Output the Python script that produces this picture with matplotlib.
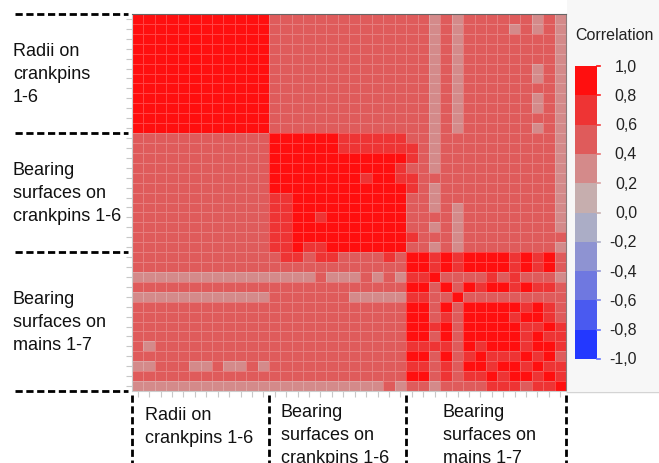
import numpy as np
import matplotlib
matplotlib.use("Agg")
import matplotlib.pyplot as plt
import matplotlib.transforms as mtransforms
from matplotlib.colors import ListedColormap, BoundaryNorm
from matplotlib.lines import Line2D
from matplotlib.patches import Rectangle

plt.rcParams["font.family"] = ["Liberation Sans", "DejaVu Sans"]

# correlation level per cell: B=0.8..1.0, T=0.6..0.8, M=0.4..0.6, L=0.2..0.4
LEVEL = {"B": 0.9, "T": 0.7, "M": 0.5, "L": 0.3}

# columns: radii (12) | crankpin bearings (12) | main bearings (14)
radii_rows = [
    "BBBBBBBBBBBB|MMMMMMMMMMMM|MMLMLMMMMMMLML",
    "BBBBBBBBBBBB|MMMMMMMMMMMM|MMLMLMMMMLMLML",
    "BBBBBBBBBBBB|MMMMMMMMMMMM|MMLMLMMMMMMMML",
    "BBBBBBBBBBBB|MMMMMMMMMMMM|MMLMLMMMMMMMML",
    "BBBBBBBBBBBB|MMMMMMMMMMMM|MMLMLMMMMMMMML",
    "BBBBBBBBBBBB|MMMMMMMMMMMM|MMLMLMMMMMMLML",
    "BBBBBBBBBBBB|MMMMMMMMMMMM|MMLMLMMMMMMLML",
    "BBBBBBBBBBBB|MMMMMMMMMMMM|MMLMLMMMMMMMML",
    "BBBBBBBBBBBB|MMMMMMMMMMMM|MMLMLMMMMMMLML",
    "BBBBBBBBBBBB|MMMMMMMMMMMM|MMLMLMMMMMMLML",
    "BBBBBBBBBBBB|MMMMMMMMMMMM|MMLMLMMMMMMMML",
    "BBBBBBBBBBBB|MMMMMMMMMMMM|MMLMLMMMMMMLML",
]
crank_rows = [
    "MMMMMMMMMMMM|BBBBBBTTTTTT|MMLMMMMMMMMMML",
    "MMMMMMMMMMMM|BBBBBBTTTTTT|TMLMMMMMMMMMML",
    "MMMMMMMMMMMM|BBBBBBBBBBBB|TMLMMMMMMMMMML",
    "MMMMMMMMMMMM|BBBBBBBBBBBT|MMLMMMMMMMMMML",
    "MMMMMMMMMMMM|BBBBBBBBTBBT|TMMMMMMMMMMMML",
    "MMMMMMMMMMMM|BBBBBBBBBBBB|TMLMMMMMMMMMML",
    "MMMMMMMMMMMM|TTBBBBBBBBBB|MMLMMMMMMMMMML",
    "MMMMMMMMMMMM|TTBBBBBBBBBB|MMLMLMMMMMMMML",
    "MMMMMMMMMMMM|TTBBTBBBBBBB|MMMMLMMMMMMMML",
    "MMMMMMMMMMMM|TTBBBBBBBBBB|MMLMLMMMMMMMML",
    "MMMMMMMMMMMM|TTBBBBBBBBBB|TMMMLMMMMMMMMM",
    "MMMMMMMMMMMM|TTBTTBBBBBBB|MMLMLMMMMMMMML",
]
main_rows = [
    "MMMMMMMMMMMM|MTTMTTMMMMTM|BBTBTBBBBTBTBM",
    "MMMMMMMMMMMM|MMMMMMMMMMMM|BBTBTBBBBTBTBM",
    "LLLLLLLLLLLL|LLLLMLLLMLML|TTBMMMMTMTMMML",
    "MMMMMMMMMMMM|MMMMMMMMMMMM|BBMBMBTBBTBTTM",
    "LLLLLLLLLLLL|MMMMMMMLLLLL|TTMMBMMMMMMMMM",
    "MMMMMMMMMMMM|MMMMMMMMMMMM|BBMBMBBBBBTBTM",
    "MMMMMMMMMMMM|MMMMMMMMMMMM|BBMTMBBBBTBBTM",
    "MMMMMMMMMMMM|MMMMMMMMMMMM|BBTBMBBBBBTTBT",
    "MMMMMMMMMMMM|MMMMMMMMMMMM|BBMBMBBBBBTBTT",
    "MLMMMMMMMMMM|MMMMMMMMMMMM|TTTTMBTBBBTBBT",
    "MMMMMMMMMMMM|MMMMMMMMMMMM|BBMBMTBTTTBTBM",
    "LLMMMLLMLLML|MMMMMMMMMMMM|TTMTMBBTBBTBTT",
    "MMMMMMMMMMMM|MMMMMMMMMMMM|BBMTMTTBTBBTBT",
    "LLLLLLLLLLLL|LLLLLLLLLLML|MMLMMMMTTTMTTB",
]

group_sizes = [12, 12, 14]
left_labels = ["Radii on\ncrankpins\n1-6",
               "Bearing\nsurfaces on\ncrankpins 1-6",
               "Bearing\nsurfaces on\nmains 1-7"]
bottom_labels = ["Radii on\ncrankpins 1-6",
                 "Bearing\nsurfaces on\ncrankpins 1-6",
                 "Bearing\nsurfaces on\nmains 1-7"]
bottom_label_x = [145, 281, 443]   # px
bottom_label_top = [407, 404, 404]  # px

bounds = [-1.0, -0.8, -0.6, -0.4, -0.2, 0.0, 0.2, 0.4, 0.6, 0.8, 1.0]
colors = ["#2338ff", "#4a5af0", "#6f78e0", "#8e93d2", "#abadc6",
          "#c6aeae", "#d48a8a", "#df5b5b", "#ee3434", "#ff0f0f"]
tick_colors = ["#6070ff", "#6070ff", "#7b84e8", "#8e93d2", "#abadc6",
               "#c8b0b0", "#d8a0a0", "#e87070", "#f04040", "#ff2020", "#ff1010"]

corr = np.array([[LEVEL[c] for c in r.replace("|", "")]
                 for r in radii_rows + crank_rows + main_rows])
n = corr.shape[0]

W, H = 659, 464
fig = plt.figure(figsize=(W / 100, H / 100), dpi=100)
fig.patch.set_facecolor("white")

# grey panel behind the colorbar
fig.add_artist(Rectangle((567 / W, 1 - 392 / H), 92 / W, 392 / H,
                         transform=fig.transFigure, facecolor="#f7f7f7",
                         edgecolor="none", zorder=-5))
fig.add_artist(Line2D([567 / W, 1], [1 - 392.5 / H] * 2, transform=fig.transFigure,
                      color="#d4d4d4", lw=1))

cmap = ListedColormap(colors)
norm = BoundaryNorm(bounds, cmap.N)

ax = fig.add_axes([132 / W, 1 - 392 / H, 434 / W, 377 / H])
mesh = ax.pcolormesh(corr, cmap=cmap, norm=norm,
                     edgecolors=(1, 1, 1, 0.22), linewidth=0.6)
ax.set_xlim(0, n)
ax.set_ylim(n, 0)
ax.set_xticks(np.arange(n) + 0.5)
ax.set_yticks(np.arange(n) + 0.5)
ax.set_xticklabels([])
ax.set_yticklabels([])
ax.tick_params(length=4, width=0.8, color="#c8c8c8", direction="out")
ax.spines["top"].set_color("#666666")
ax.spines["right"].set_color("#8a7a7a")
ax.spines["left"].set_color("#cccccc")
ax.spines["bottom"].set_color("#cccccc")

edges = np.concatenate([[0], np.cumsum(group_sizes)])
dash = (0, (2.6, 1.3))

# left group separators and labels
tl = mtransforms.blended_transform_factory(fig.transFigure, ax.transData)
for e in edges:
    fig.add_artist(Line2D([15 / W, 128 / W], [e, e], transform=tl,
                          color="black", lw=2, linestyle=dash))
for i, lab in enumerate(left_labels):
    yc = (edges[i] + edges[i + 1]) / 2
    fig.text(13 / W, yc, lab, transform=tl, ha="left", va="center",
             fontsize=13, linespacing=1.45, color="#111111")

# bottom group separators and labels
tb = mtransforms.blended_transform_factory(ax.transData, fig.transFigure)
for e in edges:
    fig.add_artist(Line2D([e, e], [1 - 396 / H, 0], transform=tb,
                          color="black", lw=2, linestyle=dash))
for x, y, lab in zip(bottom_label_x, bottom_label_top, bottom_labels):
    fig.text(x / W, 1 - y / H, lab, ha="left", va="top",
             fontsize=13, linespacing=1.45, color="#111111")

# colorbar
cax = fig.add_axes([575 / W, 1 - 360 / H, 22 / W, 293 / H])
cb = fig.colorbar(mesh, cax=cax, ticks=bounds)
cb.outline.set_visible(False)
cax.tick_params(length=0, labelright=False)
tc = mtransforms.blended_transform_factory(cax.transAxes, cax.transData)
tf = mtransforms.blended_transform_factory(fig.transFigure, cax.transData)
for v, c in zip(bounds, tick_colors):
    cax.add_line(Line2D([1.0, 1.15], [v, v], transform=tc, color=c,
                        lw=1.2, clip_on=False))
    fig.text(637 / W, v, f"{v:.1f}".replace(".", ","), transform=tf,
             ha="right", va="center", fontsize=11.5, color="#222222")
fig.text(575 / W, 1 - 36 / H, "Correlation", ha="left", va="center",
         fontsize=11.5, color="#222222")

fig.savefig("out.png", dpi=100)
